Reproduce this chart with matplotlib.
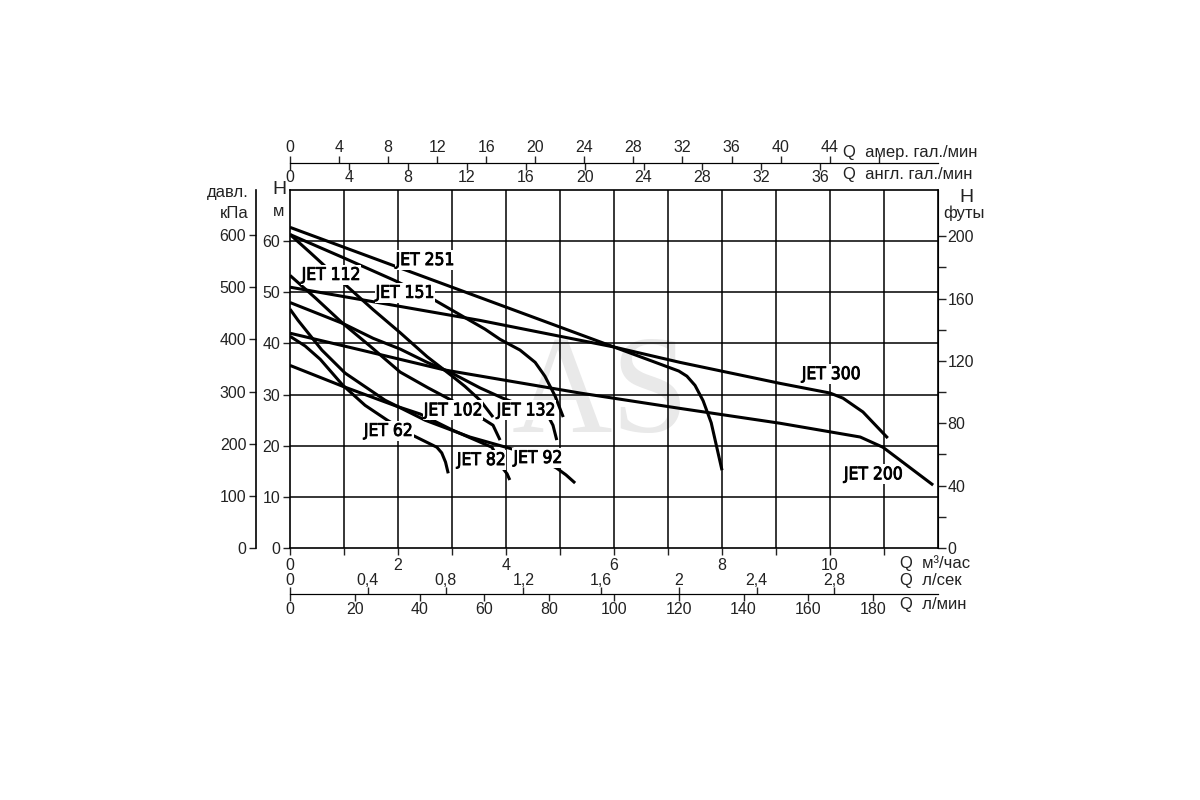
#!/usr/bin/env python3
"""JET pump family: head vs flow chart with unit scales."""

import matplotlib
matplotlib.use("Agg")
import matplotlib.pyplot as plt
import matplotlib.patheffects as pe
import numpy as np
from matplotlib import font_manager

# curves: flow Q (m3/h) and head H (m)
jet251_q = [0, 3.0, 6.0, 7.2, 7.35, 7.5, 7.65, 7.8, 8.0]
jet251_h = [62.7, 51.0, 39.3, 34.6, 33.6, 31.8, 28.8, 24.5, 15.2]

jet300_q = [0, 3.52, 6.0, 7.22, 9.07, 10.0, 10.24, 10.61, 11.07]
jet300_h = [51.0, 44.5, 39.3, 36.3, 32.2, 30.3, 29.3, 26.6, 21.5]

jet200_q = [0, 0.96, 2.87, 5.37, 7.22, 9.07, 10.56, 10.98, 11.91]
jet200_h = [42.0, 39.6, 34.8, 30.3, 27.3, 24.4, 21.7, 19.7, 12.3]

jet151_q = [0, 0.98, 1.94, 2.59, 3.61, 3.89, 4.26, 4.54, 4.72, 4.91, 5.06]
jet151_h = [61.3, 56.8, 52.3, 49.0, 42.8, 40.8, 38.7, 36.3, 33.6, 29.7, 25.6]

jet112_q = [0, 0.37, 0.98, 1.54, 2.04, 2.54, 2.98, 3.24, 3.52, 3.76]
jet112_h = [61.3, 57.8, 51.9, 46.6, 42.1, 37.4, 33.8, 31.6, 28.9, 25.6]

jet132_q = [0, 0.98, 1.54, 2.04, 2.54, 2.96, 3.52, 3.94, 4.44, 4.78, 4.87, 4.94]
jet132_h = [48.0, 43.9, 41.0, 38.9, 36.3, 34.4, 31.3, 29.3, 27.3, 25.8, 24.0, 21.1]

jet102_q = [0, 0.48, 0.98, 1.48, 2.04, 2.56, 3.06, 3.52, 3.76, 3.89]
jet102_h = [53.3, 48.8, 43.9, 39.5, 34.4, 31.3, 28.5, 25.6, 24.0, 21.1]

jet62_q = [0, 0.28, 0.56, 0.98, 1.39, 1.80, 2.26, 2.72, 2.81, 2.88, 2.93]
jet62_h = [41.4, 39.5, 36.9, 31.8, 27.9, 25.0, 22.1, 19.7, 18.6, 16.8, 14.6]

jet82_q = [0, 0.98, 1.98, 2.41, 3.02, 3.74, 3.85, 3.94, 4.02, 4.07]
jet82_h = [35.7, 31.6, 27.7, 26.2, 23.0, 19.7, 17.6, 15.6, 14.5, 13.3]

jet92_q = [0, 0.15, 0.59, 1.02, 1.76, 2.50, 3.33, 4.20, 4.63, 4.94, 5.11, 5.28]
jet92_h = [46.7, 44.5, 38.7, 34.2, 28.9, 25.0, 21.7, 19.1, 17.4, 15.6, 14.3, 12.7]

# curve labels and where they sit (Q, H)
label_names = ["JET 251", "JET 112", "JET 151", "JET 102", "JET 132",
               "JET 62", "JET 82", "JET 92", "JET 300", "JET 200"]
label_q = [2.50, 0.76, 2.13, 3.02, 4.37, 1.82, 3.54, 4.59, 10.02, 10.80]
label_h = [56.3, 53.4, 49.9, 26.9, 26.9, 22.9, 17.2, 17.6, 34.0, 14.4]

# unit scales
m3h_ticks = list(range(0, 12))
m3h_labels = ["0", "", "2", "", "4", "", "6", "", "8", "", "10", ""]
head_ticks = list(range(0, 61, 10))
kpa_ticks = list(range(0, 601, 100))
feet_ticks = list(range(0, 201, 40))
feet_minor = list(range(20, 181, 40))
usgpm_ticks = list(range(0, 49, 4))
impgpm_ticks = list(range(0, 37, 4))
lps_ticks = [0, 0.4, 0.8, 1.2, 1.6, 2.0, 2.4, 2.8]
lpm_ticks = list(range(0, 181, 20))

W, H = 1200, 800
TXT = "#222222"


def fx(px):
    return px / W


def fy(py):
    return 1 - py / H


def label_font():
    # the curve names use a narrow face; pick whatever condensed one is installed
    prefs = ["LiberationSansNarrow-Regular", "LiberationSansNarrow-Bold",
             "DejaVuSansCondensed.", "DejaVuSansCondensed-Bold",
             "RobotoCondensed-Regular", "OpenSans_Condensed-Regular",
             "OpenSans-CondRegular"]
    files = [f.fname for f in font_manager.fontManager.ttflist]
    for p in prefs:
        for fn in files:
            if p.lower() in fn.lower():
                return font_manager.FontProperties(fname=fn, size=12.5)
    for f in font_manager.fontManager.ttflist:
        if ("narrow" in f.name.lower() or "condensed" in f.name.lower()) and f.style == "normal":
            return font_manager.FontProperties(fname=f.fname, size=12.5)
    return font_manager.FontProperties(family=["Liberation Sans", "DejaVu Sans"], size=10.5)


def main():
    plt.rcParams["font.family"] = ["Liberation Sans", "DejaVu Sans"]
    fig = plt.figure(figsize=(12, 8), dpi=100)
    ax = fig.add_axes([fx(290), fy(548), 648 / W, 358 / H])
    ax.set_xlim(0, 12)
    ax.set_ylim(0, 70)

    ax.set_xticks(m3h_ticks, labels=m3h_labels)
    ax.set_yticks(head_ticks, labels=[str(v) for v in head_ticks])
    ax.tick_params(direction="out", length=5, width=1, colors=TXT,
                   labelsize=11.5, pad=2)
    for v in range(1, 12):
        ax.axvline(v, color="black", lw=1.1, zorder=1)
    for v in range(10, 70, 10):
        ax.axhline(v, color="black", lw=1.1, zorder=1)
    for s in ax.spines.values():
        s.set_linewidth(1.2)

    ax.text(5.74, 29.3, "AS", fontsize=100, family=["Liberation Serif", "DejaVu Serif"],
            color="#e9e9e9", ha="center", va="center", zorder=0.5)

    curves = [(jet251_q, jet251_h), (jet300_q, jet300_h), (jet200_q, jet200_h),
              (jet151_q, jet151_h), (jet112_q, jet112_h), (jet132_q, jet132_h),
              (jet102_q, jet102_h), (jet62_q, jet62_h), (jet82_q, jet82_h),
              (jet92_q, jet92_h)]
    for q, h in curves:
        ax.plot(q, h, color="black", lw=2.2, solid_capstyle="butt",
                solid_joinstyle="round", zorder=3)

    fp = label_font()
    heavier = [pe.withStroke(linewidth=0.6, foreground="black")]
    for name, q, h in zip(label_names, label_q, label_h):
        ax.text(q, h, name, fontproperties=fp, color="black",
                ha="center", va="center", zorder=5, path_effects=heavier,
                bbox=dict(boxstyle="square,pad=0.06", fc="white", ec="none"))

    # pressure in kPa on the far left
    kpa = ax.secondary_yaxis(-0.0525, functions=(lambda m: np.asarray(m) * 9.80665,
                                                   lambda p: np.asarray(p) / 9.80665))
    kpa.set_yticks(kpa_ticks, labels=[str(v) for v in kpa_ticks])
    kpa.tick_params(direction="out", length=5, width=1, colors=TXT,
                    labelsize=11.5, pad=2)
    kpa.spines["left"].set_linewidth(1.2)

    # head in feet on the right
    ft = ax.secondary_yaxis("right", functions=(lambda m: np.asarray(m) * 3.28084,
                                                 lambda f: np.asarray(f) / 3.28084))
    ft.set_yticks(feet_ticks, labels=[str(v) for v in feet_ticks])
    ft.set_yticks(feet_minor, minor=True)
    ft.tick_params(which="both", direction="out", length=6, width=1, colors=TXT,
                   labelsize=11.5, pad=1)

    # top: US and imperial gallons per minute on one line
    us = ax.secondary_xaxis(1.0754, functions=(lambda q: np.asarray(q) * 4.40287,
                                               lambda g: np.asarray(g) / 4.40287))
    us.set_xticks(usgpm_ticks, labels=[str(v) if v < 48 else "" for v in usgpm_ticks])
    us.tick_params(direction="out", length=5, width=1, colors=TXT,
                   labelsize=11.5, pad=1)
    imp = ax.secondary_xaxis(1.0754, functions=(lambda q: np.asarray(q) * 3.66615,
                                                lambda g: np.asarray(g) / 3.66615))
    imp.set_alignment("bottom")
    imp.set_xticks(impgpm_ticks, labels=[str(v) for v in impgpm_ticks])
    imp.tick_params(direction="out", length=5, width=1, colors=TXT,
                    labelsize=11.5, pad=0)

    # bottom: litres per second above the line, litres per minute below
    lps = ax.secondary_xaxis(-0.1285, functions=(lambda q: np.asarray(q) / 3.6,
                                                 lambda s: np.asarray(s) * 3.6))
    lps.set_alignment("top")
    lps.set_xticks(lps_ticks, labels=[f"{v:g}".replace(".", ",") for v in lps_ticks])
    lps.tick_params(direction="out", length=5, width=1, colors=TXT,
                    labelsize=11.5, pad=-1)
    lpm = ax.secondary_xaxis(-0.1285, functions=(lambda q: np.asarray(q) * 1000 / 60,
                                                 lambda l: np.asarray(l) * 60 / 1000))
    lpm.set_xticks(lpm_ticks, labels=[str(v) for v in lpm_ticks])
    lpm.tick_params(direction="out", length=5, width=1, colors=TXT,
                    labelsize=11.5, pad=1)

    # axis captions
    cap = dict(color=TXT, fontsize=12)
    fig.text(fx(249), fy(192), "давл.", ha="right", va="center", **cap)
    fig.text(fx(249), fy(213), "кПа", ha="right", va="center", **cap)
    fig.text(fx(279), fy(190), "Н", ha="center", va="center", color=TXT, fontsize=14)
    fig.text(fx(279), fy(212), "м", ha="center", va="center", **cap)
    fig.text(fx(966), fy(197), "Н", ha="center", va="center", color=TXT, fontsize=14)
    fig.text(fx(964), fy(213), "футы", ha="center", va="center", **cap)
    fig.text(fx(843), fy(152), "Q  амер. гал./мин", ha="left", va="center", **cap)
    fig.text(fx(843), fy(174), "Q  англ. гал./мин", ha="left", va="center", **cap)
    fig.text(fx(900), fy(563), "Q  м³/час", ha="left", va="center", **cap)
    fig.text(fx(900), fy(581), "Q  л/сек", ha="left", va="center", **cap)
    fig.text(fx(900), fy(605), "Q  л/мин", ha="left", va="center", **cap)

    fig.savefig("out.png", dpi=100)
    plt.close(fig)


if __name__ == "__main__":
    main()
